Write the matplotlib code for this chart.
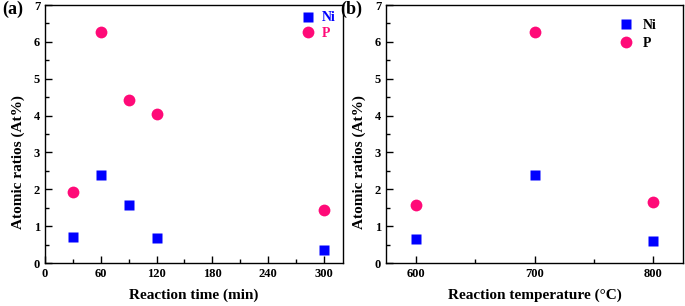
import numpy as np
import matplotlib
matplotlib.use("Agg")
import matplotlib.pyplot as plt
from matplotlib.ticker import MultipleLocator

plt.rcParams['font.family'] = ['Liberation Serif', 'DejaVu Serif']
plt.rcParams['font.weight'] = 'bold'

# data
time_min = [30, 60, 90, 120, 300]
ni_time = [0.70, 2.40, 1.58, 0.69, 0.35]
p_time = [1.92, 6.28, 4.41, 4.03, 1.45]

temp_c = [600, 700, 800]
ni_temp = [0.65, 2.40, 0.60]
p_temp = [1.58, 6.28, 1.65]

blue = '#0000FF'
pink = '#FF0A78'

fig = plt.figure(figsize=(6.85, 3.06), dpi=100)
ax1 = fig.add_axes([0.0657, 0.1405, 0.4343, 0.843])
ax2 = fig.add_axes([0.5635, 0.1405, 0.4336, 0.843])


def style(ax):
    ax.set_ylim(0, 7)
    ax.yaxis.set_major_locator(MultipleLocator(1))
    ax.yaxis.set_minor_locator(MultipleLocator(0.5))
    ax.tick_params(which='both', direction='in', top=False, right=False,
                   labelsize=9, width=1)
    ax.tick_params(which='major', length=5)
    ax.tick_params(which='minor', length=3)
    for s in ax.spines.values():
        s.set_linewidth(1)
    for lab in ax.get_xticklabels() + ax.get_yticklabels():
        lab.set_fontweight('bold')
    ax.set_ylabel('Atomic ratios (At%)', fontsize=11, fontweight='bold')
    ax.yaxis.set_label_coords(-0.066, 0.39)
    ax.xaxis.labelpad = 6


# (a)
ax1.plot(time_min, ni_time, 's', color=blue, ms=7, mec='none', label='Ni')
ax1.plot(time_min, p_time, 'o', color=pink, ms=8.5, mec='none', label='P')
ax1.set_xlim(0, 320)
ax1.xaxis.set_major_locator(MultipleLocator(60))
ax1.xaxis.set_minor_locator(MultipleLocator(30))
style(ax1)
ax1.set_xlabel('Reaction time (min)', fontsize=11, fontweight='bold')
leg = ax1.legend(loc='upper right', bbox_to_anchor=(0.976, 0.975), frameon=False,
                 fontsize=10, handletextpad=0.4, labelspacing=0.2,
                 borderaxespad=0, borderpad=0, handlelength=1.2)
for t, c in zip(leg.get_texts(), [blue, pink]):
    t.set_color(c)
fig.text(0.003, 0.955, '(a)', fontsize=13, fontweight='bold')

# (b)
ax2.plot(temp_c, ni_temp, 's', color=blue, ms=7, mec='none', label='Ni')
ax2.plot(temp_c, p_temp, 'o', color=pink, ms=8.5, mec='none', label='P')
ax2.set_xlim(575, 825)
ax2.xaxis.set_major_locator(MultipleLocator(100))
ax2.xaxis.set_minor_locator(MultipleLocator(50))
style(ax2)
ax2.set_xlabel('Reaction temperature (°C)', fontsize=11, fontweight='bold')
ax2.legend(loc='upper right', bbox_to_anchor=(0.91, 0.945), frameon=False,
           fontsize=10, handletextpad=0.6, labelspacing=0.35,
           borderaxespad=0, borderpad=0, handlelength=1.2)
fig.text(0.497, 0.955, '(b)', fontsize=13, fontweight='bold')

fig.savefig('out.png', dpi=100)
